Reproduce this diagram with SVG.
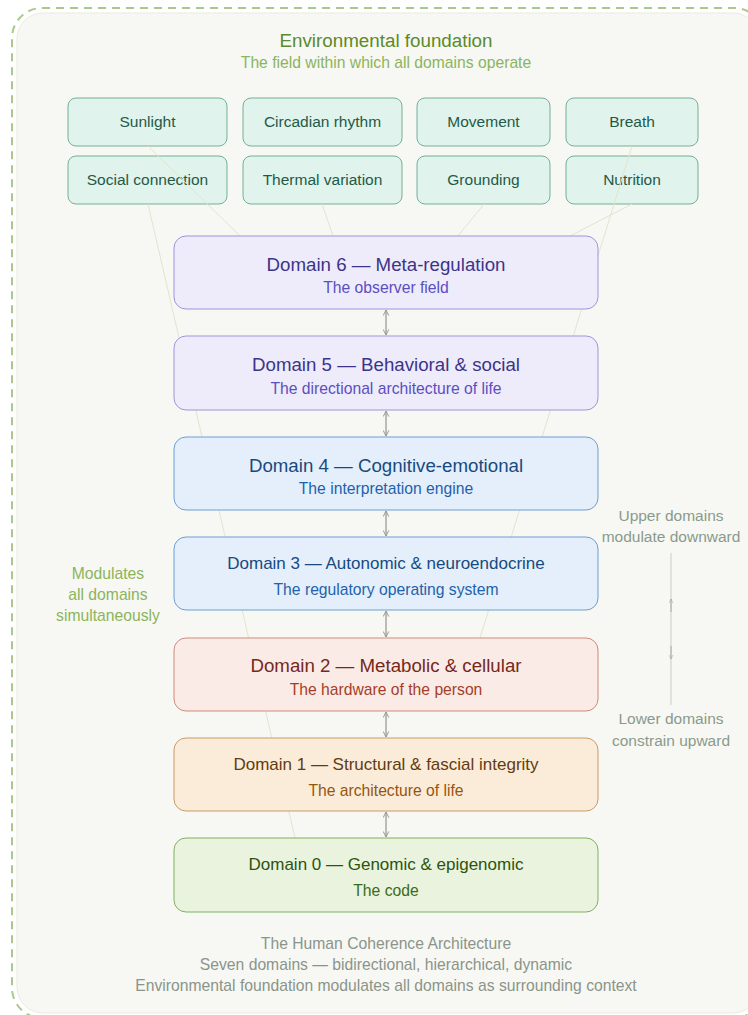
<svg xmlns="http://www.w3.org/2000/svg" width="748" height="1015" viewBox="0 0 748 1015">
<defs>
<marker id="ah" viewBox="0 0 10 10" refX="9" refY="5" markerWidth="7" markerHeight="7" orient="auto-start-reverse" markerUnits="userSpaceOnUse">
<path d="M1,1 L9,5 L1,9" fill="none" stroke="#999990" stroke-width="1.4"/>
</marker>
<marker id="ahs" viewBox="0 0 10 10" refX="9" refY="5" markerWidth="5" markerHeight="5" orient="auto-start-reverse" markerUnits="userSpaceOnUse">
<path d="M1,1 L9,5 L1,9" fill="none" stroke="#aaaaaa" stroke-width="1.2"/>
</marker>
<style>
text{font-family:"Liberation Sans",Arial,sans-serif;text-anchor:middle}
.env rect{fill:#e0f3ec;stroke:#72b096;stroke-width:1}
.env text{font-size:15.5px;fill:#1f5a48}
.dt{font-size:18.7px}
.dt.sm{font-size:17px}
.ds{font-size:15.7px}
.d6 rect,.d5 rect{fill:#eeebfb;stroke:#9e95da}
.d6 .dt,.d5 .dt{fill:#3c3489}
.d6 .ds,.d5 .ds{fill:#5a4fc0}
.d4 rect,.d3 rect{fill:#e5effb;stroke:#6d9dd3}
.d4 .dt,.d3 .dt{fill:#164a80}
.d4 .ds,.d3 .ds{fill:#1d62ac}
.d2 rect{fill:#fbebe7;stroke:#d0897a}
.d2 .dt{fill:#74291a}
.d2 .ds{fill:#a53e28}
.d1 rect{fill:#fbecd9;stroke:#c89b67}
.d1 .dt{fill:#633b0e}
.d1 .ds{fill:#94560f}
.d0 rect{fill:#e9f3dd;stroke:#80b063}
.d0 .dt{fill:#2c5410}
.d0 .ds{fill:#3c6b18}
.faint{stroke:#dfe6cf;stroke-width:1;fill:none}
.link{stroke:#a3a39b;stroke-width:1.4;fill:none;marker-start:url(#ah);marker-end:url(#ah)}
.side{font-size:15.5px;fill:#8a9a8c}
.foot{font-size:15.7px;fill:#8b948a}
</style>
</defs>
<rect x="0" y="0" width="748" height="1015" fill="#ffffff"/>
<rect x="17" y="13" width="742" height="1000" rx="26" fill="#f7f8f3" stroke="#e8ebe3" stroke-width="1"/>
<rect x="12" y="8" width="752" height="1010" rx="30" fill="none" stroke="#a9c98a" stroke-width="2" stroke-dasharray="8 6"/>

<g id="header">
<text x="386" y="47" font-size="18.8" fill="#5b8a2c">Environmental foundation</text>
<text x="386" y="68" font-size="15.7" fill="#8cb45c">The field within which all domains operate</text>
</g>

<g id="env-sunlight" class="env"><rect x="68" y="98" width="159" height="48" rx="8"/><text x="147.5" y="127">Sunlight</text></g>
<g id="env-circadian" class="env"><rect x="243" y="98" width="159" height="48" rx="8"/><text x="322.5" y="127">Circadian rhythm</text></g>
<g id="env-movement" class="env"><rect x="417" y="98" width="133" height="48" rx="8"/><text x="483.5" y="127">Movement</text></g>
<g id="env-breath" class="env"><rect x="566" y="98" width="132" height="48" rx="8"/><text x="632" y="127">Breath</text></g>
<g id="env-social" class="env"><rect x="68" y="156" width="159" height="48" rx="8"/><text x="147.5" y="185">Social connection</text></g>
<g id="env-thermal" class="env"><rect x="243" y="156" width="159" height="48" rx="8"/><text x="322.5" y="185">Thermal variation</text></g>
<g id="env-grounding" class="env"><rect x="417" y="156" width="133" height="48" rx="8"/><text x="483.5" y="185">Grounding</text></g>
<g id="env-nutrition" class="env"><rect x="566" y="156" width="132" height="48" rx="8"/><text x="632" y="185">Nutrition</text></g>

<g id="connectors">
<line class="faint" x1="148" y1="146" x2="240" y2="236"/>
<line class="faint" x1="148" y1="204" x2="295" y2="838"/>
<line class="faint" x1="322" y1="204" x2="333" y2="236"/>
<line class="faint" x1="484" y1="204" x2="458" y2="236"/>
<line class="faint" x1="632" y1="204" x2="570" y2="236"/>
<line class="faint" x1="632" y1="146" x2="480" y2="638"/>
<line class="link" x1="386" y1="310" x2="386" y2="335"/>
<line class="link" x1="386" y1="411" x2="386" y2="436"/>
<line class="link" x1="386" y1="511" x2="386" y2="536"/>
<line class="link" x1="386" y1="611" x2="386" y2="637"/>
<line class="link" x1="386" y1="712" x2="386" y2="737"/>
<line class="link" x1="386" y1="812" x2="386" y2="837"/>
<line x1="671" y1="553" x2="671" y2="705" stroke="#d2d4cf" stroke-width="1.2"/>
<line x1="671" y1="612" x2="671" y2="599" stroke="#aaaaaa" stroke-width="1" marker-end="url(#ahs)"/>
<line x1="671" y1="646" x2="671" y2="659" stroke="#aaaaaa" stroke-width="1" marker-end="url(#ahs)"/>
</g>

<g id="domain6" class="d6"><rect x="174" y="236" width="424" height="73" rx="12"/><text class="dt" x="386" y="271">Domain 6 — Meta-regulation</text><text class="ds" x="386" y="293">The observer field</text></g>
<g id="domain5" class="d5"><rect x="174" y="336" width="424" height="74" rx="12"/><text class="dt" x="386" y="371">Domain 5 — Behavioral &amp; social</text><text class="ds" x="386" y="394">The directional architecture of life</text></g>
<g id="domain4" class="d4"><rect x="174" y="437" width="424" height="73" rx="12"/><text class="dt" x="386" y="472">Domain 4 — Cognitive-emotional</text><text class="ds" x="386" y="494">The interpretation engine</text></g>
<g id="domain3" class="d3"><rect x="174" y="537" width="424" height="73" rx="12"/><text class="dt sm" x="386" y="569">Domain 3 — Autonomic &amp; neuroendocrine</text><text class="ds" x="386" y="595">The regulatory operating system</text></g>
<g id="domain2" class="d2"><rect x="174" y="638" width="424" height="73" rx="12"/><text class="dt" x="386" y="672">Domain 2 — Metabolic &amp; cellular</text><text class="ds" x="386" y="695">The hardware of the person</text></g>
<g id="domain1" class="d1"><rect x="174" y="738" width="424" height="73" rx="12"/><text class="dt sm" x="386" y="770">Domain 1 — Structural &amp; fascial integrity</text><text class="ds" x="386" y="796">The architecture of life</text></g>
<g id="domain0" class="d0"><rect x="174" y="838" width="424" height="74" rx="12"/><text class="dt sm" x="386" y="870">Domain 0 — Genomic &amp; epigenomic</text><text class="ds" x="386" y="896">The code</text></g>

<g id="left-note">
<text x="108" y="579" font-size="15.7" fill="#8cb45c">Modulates</text>
<text x="108" y="600" font-size="15.7" fill="#8cb45c">all domains</text>
<text x="108" y="621" font-size="15.7" fill="#8cb45c">simultaneously</text>
</g>
<g id="right-note">
<text class="side" x="671" y="521">Upper domains</text>
<text class="side" x="671" y="542">modulate downward</text>
<text class="side" x="671" y="724">Lower domains</text>
<text class="side" x="671" y="746">constrain upward</text>
</g>
<g id="footer">
<text class="foot" x="386" y="949">The Human Coherence Architecture</text>
<text class="foot" x="386" y="970">Seven domains — bidirectional, hierarchical, dynamic</text>
<text class="foot" x="386" y="991">Environmental foundation modulates all domains as surrounding context</text>
</g>
</svg>
